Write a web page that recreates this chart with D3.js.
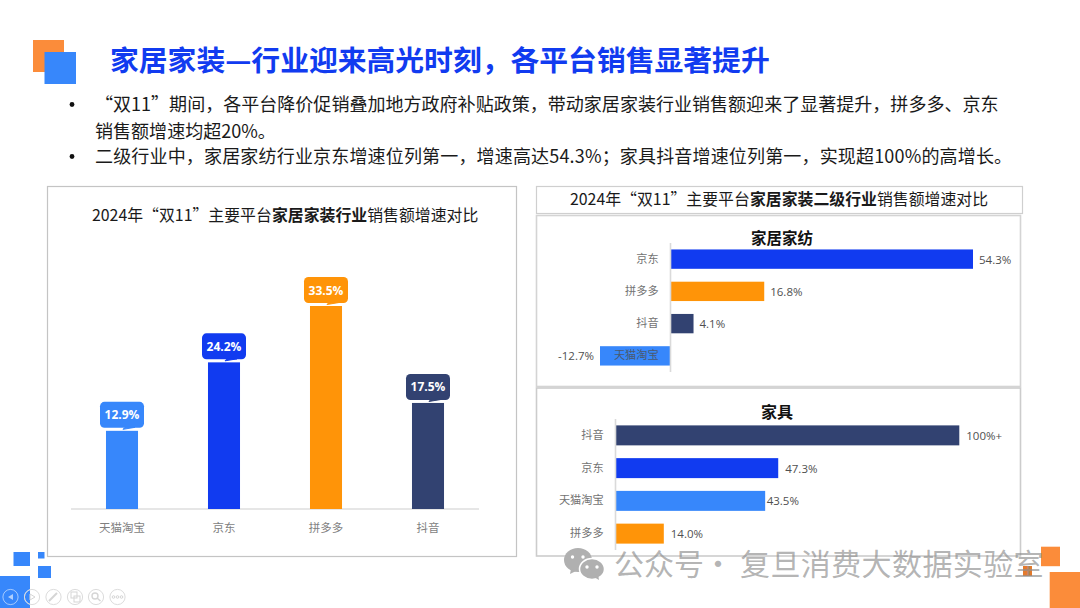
<!DOCTYPE html>
<html><head><meta charset="utf-8">
<script src="https://cdnjs.cloudflare.com/ajax/libs/d3/7.8.5/d3.min.js"></script>
<style>
html,body{margin:0;padding:0;background:#fff;overflow:hidden}
svg{display:block}
text{font-family:"Noto Sans CJK SC","Noto Sans",sans-serif}
.num{font-family:"Open Sans","Noto Sans",sans-serif}
.axis path,.axis line{display:none}
</style></head><body>
<svg id="c" width="1080" height="608"></svg>
<script>
const titleText = "家居家装—行业迎来高光时刻，各平台销售显著提升";
const bulletLines = [
  "“双11”期间，各平台降价促销叠加地方政府补贴政策，带动家居家装行业销售额迎来了显著提升，拼多多、京东",
  "销售额增速均超20%。",
  "二级行业中，家居家纺行业京东增速位列第一，增速高达54.3%；家具抖音增速位列第一，实现超100%的高增长。"
];
const mainCats = ["天猫淘宝","京东","拼多多","抖音"];
const mainVals = [12.9,24.2,33.5,17.5];
const textileCats = ["京东","拼多多","抖音","天猫淘宝"];
const textileVals = [54.3,16.8,4.1,-12.7];
const furnitureCats = ["抖音","京东","天猫淘宝","拼多多"];
const furnitureVals = [100,47.3,43.5,14.0];
const furnitureLabels = ["100%+","47.3%","43.5%","14.0%"];
const platformColor = {"天猫淘宝":"#3787FB","京东":"#113BF0","拼多多":"#FF9408","抖音":"#324271"};
const BLUE="#3787FB", ORANGE="#FB8C3A";

const svg = d3.select("#c");
const rect=(x,y,w,h,f,extra={})=>{const r=svg.append("rect").attr("x",x).attr("y",y).attr("width",w).attr("height",h).attr("fill",f);for(const k in extra)r.attr(k,extra[k]);return r;};

// decoration
rect(33,40,31,32,ORANGE);
rect(44.5,52,31.5,32,BLUE);
rect(13.5,552,16.5,14,BLUE);
rect(38,552,6.5,6.5,BLUE);
rect(38,566,13,12,BLUE);
rect(0,576,30,32,BLUE);
rect(1041,546.7,19,19.5,ORANGE);
rect(1049.7,572,30.3,36,ORANGE);
rect(1023,566,9,10,"#E47A2C");

// slide-show control icons
const iconX=[10.5,32,53.5,75,96,117.5];
svg.append("g").selectAll("circle").data(iconX).join("circle")
  .attr("cx",d=>d).attr("cy",597).attr("r",7.6).attr("fill","none").attr("stroke","#fff").attr("stroke-opacity",.55).attr("stroke-width",1);
svg.append("g").selectAll("circle").data(iconX.slice(1)).join("circle")
  .attr("cx",d=>d).attr("cy",597).attr("r",7.6).attr("fill","none").attr("stroke","#dcdcdc").attr("stroke-width",1);
svg.append("path").attr("d","M13,594 L8,597 L13,600Z").attr("fill","#fff").attr("fill-opacity",.6);
svg.append("path").attr("d","M30,594 L35,597 L30,600Z").attr("fill","none").attr("stroke","#d5d5d5");
svg.append("path").attr("d","M49,601 L57,593").attr("stroke","#d5d5d5").attr("stroke-width",2);
rect(71,592,6,6,"none",{stroke:"#d5d5d5"});rect(74,596,6,6,"none",{stroke:"#d5d5d5"});
svg.append("circle").attr("cx",95).attr("cy",596).attr("r",3).attr("fill","none").attr("stroke","#d5d5d5").attr("stroke-width",1.4);
svg.append("path").attr("d","M97,598 L100.5,601").attr("stroke","#d5d5d5").attr("stroke-width",1.6);
svg.append("g").selectAll("circle").data([113.5,117.5,121.5]).join("circle").attr("cx",d=>d).attr("cy",597).attr("r",1.3).attr("fill","none").attr("stroke","#d5d5d5");

// header
svg.append("text").attr("x",110).attr("y",71).attr("font-size",28.8).attr("font-weight",700).attr("fill","#113BF0").text(titleText);
const bodyY=[111,137.5,163];
const bodyX=[95,95,95];
svg.append("g").selectAll("text").data(bulletLines).join("text")
  .attr("x",(d,i)=>bodyX[i]).attr("y",(d,i)=>bodyY[i]).attr("font-size",18.05).attr("fill","#1a1a1a")
  .attr("letter-spacing",(d,i)=>i===2?.14:0).text(d=>d);
svg.append("g").selectAll("circle").data([0,2]).join("circle")
  .attr("cx",72).attr("cy",i=>bodyY[i]-6.5).attr("r",2.4).attr("fill","#111");

// panels
rect(47.5,186.5,469,370,"#fff",{stroke:"#c4c4c4","stroke-width":1.2});
rect(536.5,186.5,486,27,"#fff",{stroke:"#cfcfcf","stroke-width":1.2});
rect(536.5,215.5,484,171,"#fff",{stroke:"#d4d4d4","stroke-width":1.6});
rect(536.5,388,484,168,"#fff",{stroke:"#cccccc","stroke-width":1.6});

function richTitle(x,y,parts){
  const t=svg.append("text").attr("x",x).attr("y",y).attr("font-size",15.88).attr("fill","#1a1a1a");
  parts.forEach(p=>t.append("tspan").attr("font-weight",p[1]?700:400).text(p[0]));
}
richTitle(92,221,[["2024年“双11”主要平台",0],["家居家装行业",1],["销售额增速对比",0]]);
richTitle(570,205,[["2024年“双11”主要平台",0],["家居家装二级行业",1],["销售额增速对比",0]]);

// main column chart
const mx=d3.scaleBand().domain(mainCats).range([71,479]).paddingInner(.686).paddingOuter(.343);
const my=d3.scaleLinear().domain([0,33.5]).range([509,306]);
rect(71,508,408,2,"#E6E6E6");
const mg=svg.append("g");
mg.selectAll("rect").data(mainCats).join("rect")
  .attr("x",d=>mx(d)).attr("width",mx.bandwidth())
  .attr("y",(d,i)=>my(mainVals[i])).attr("height",(d,i)=>my(0)-my(mainVals[i]))
  .attr("fill",d=>platformColor[d]);
const callout=mg.selectAll("g.cl").data(mainCats).join("g").attr("class","cl")
  .attr("transform",(d,i)=>`translate(${mx(d)+mx.bandwidth()/2},${my(mainVals[i])})`);
callout.append("rect").attr("x",-22).attr("y",-29).attr("width",44).attr("height",26).attr("rx",4.5).attr("fill",d=>platformColor[d]);
callout.append("path").attr("d","M1,-1.5 L13,-3.5 L3,-3.5Z").attr("stroke",d=>platformColor[d]).attr("fill",d=>platformColor[d]);
callout.append("text").attr("class","num").attr("y",-11.5).attr("text-anchor","middle").attr("font-size",12).attr("font-weight",700).attr("fill","#fff")
  .text((d,i)=>mainVals[i].toFixed(1)+"%");
const mAxis=svg.append("g").attr("class","axis").attr("transform","translate(0,509)")
  .call(d3.axisBottom(mx).tickSize(0).tickPadding(15));
mAxis.selectAll("text").attr("font-size",11.5).attr("fill","#7f7f7f").attr("font-family",'"Noto Sans CJK SC"');

function hbars(cats,vals,labels,xs,yr,inner,outer,title,titleX,titleY,titleSize,gapFor){
  const y=d3.scaleBand().domain(cats).range(yr).paddingInner(inner).paddingOuter(outer);
  const zero=xs(0);
  svg.append("text").attr("x",titleX).attr("y",titleY).attr("text-anchor","middle").attr("font-size",titleSize).attr("font-weight",700).attr("fill","#111").text(title);
  const g=svg.append("g");
  g.selectAll("rect").data(cats).join("rect")
    .attr("y",d=>y(d)).attr("height",y.bandwidth())
    .attr("x",(d,i)=>Math.min(xs(vals[i]),zero)).attr("width",(d,i)=>Math.abs(xs(vals[i])-zero))
    .attr("fill",d=>platformColor[d]);
  g.selectAll("text").data(cats).join("text").attr("class","num")
    .attr("y",d=>y(d)+y.bandwidth()/2+4.5)
    .attr("x",(d,i)=>vals[i]<0?xs(vals[i])-gapFor(d):xs(vals[i])+gapFor(d))
    .attr("text-anchor",(d,i)=>vals[i]<0?"end":"start")
    .attr("font-size",11.5).attr("fill","#505050").text((d,i)=>labels[i]);
  rect(zero-1,yr[0],1.6,yr[1]-yr[0],"#DADADA");
  const a=svg.append("g").attr("class","axis").attr("transform",`translate(${zero},0)`)
    .call(d3.axisLeft(y).tickSize(0).tickPadding(12));
  a.selectAll("text").attr("font-size",11.2).attr("font-family",'"Noto Sans CJK SC"')
    .attr("fill",(d)=>vals[cats.indexOf(d)]<0?"#4a5a70":"#737373");
}
hbars(textileCats,textileVals,textileVals.map(v=>v.toFixed(1)+"%"),
  d3.scaleLinear().domain([-12.7,54.3]).range([600,973]),[243,372],.4,.2,"家居家纺",782,243.5,15.5,()=>6);
hbars(furnitureCats,furnitureVals,furnitureLabels,
  d3.scaleLinear().domain([0,100]).range([615.7,959.3]),[419,550],.39,.195,"家具",777,418,16,d=>d==="天猫淘宝"?1.5:7);

// watermark
const wm=svg.append("g").attr("fill","#B0B0B0");
wm.append("ellipse").attr("cx",578).attr("cy",560).attr("rx",14).attr("ry",12);
wm.append("path").attr("d","M571,569 L570,574 L578,570Z");
wm.append("ellipse").attr("cx",592).attr("cy",569).attr("rx",12.5).attr("ry",10.5).attr("stroke","#fff").attr("stroke-width",1.5);
wm.append("path").attr("d","M594,577 L599,580 L598,574Z");
[[572.5,557],[583,557],[587,567],[597,567]].forEach(p=>svg.append("circle").attr("cx",p[0]).attr("cy",p[1]).attr("r",1.7).attr("fill","#fff"));
const wt=svg.append("text").attr("y",574.5).attr("font-size",30).attr("fill","#8f8f8f").attr("fill-opacity",.68);
wt.append("tspan").attr("x",614).text("公众号");
wt.append("tspan").attr("x",703).text("·");
wt.append("tspan").attr("x",740).attr("letter-spacing",.4).text("复旦消费大数据实验室");
</script>
</body></html>
